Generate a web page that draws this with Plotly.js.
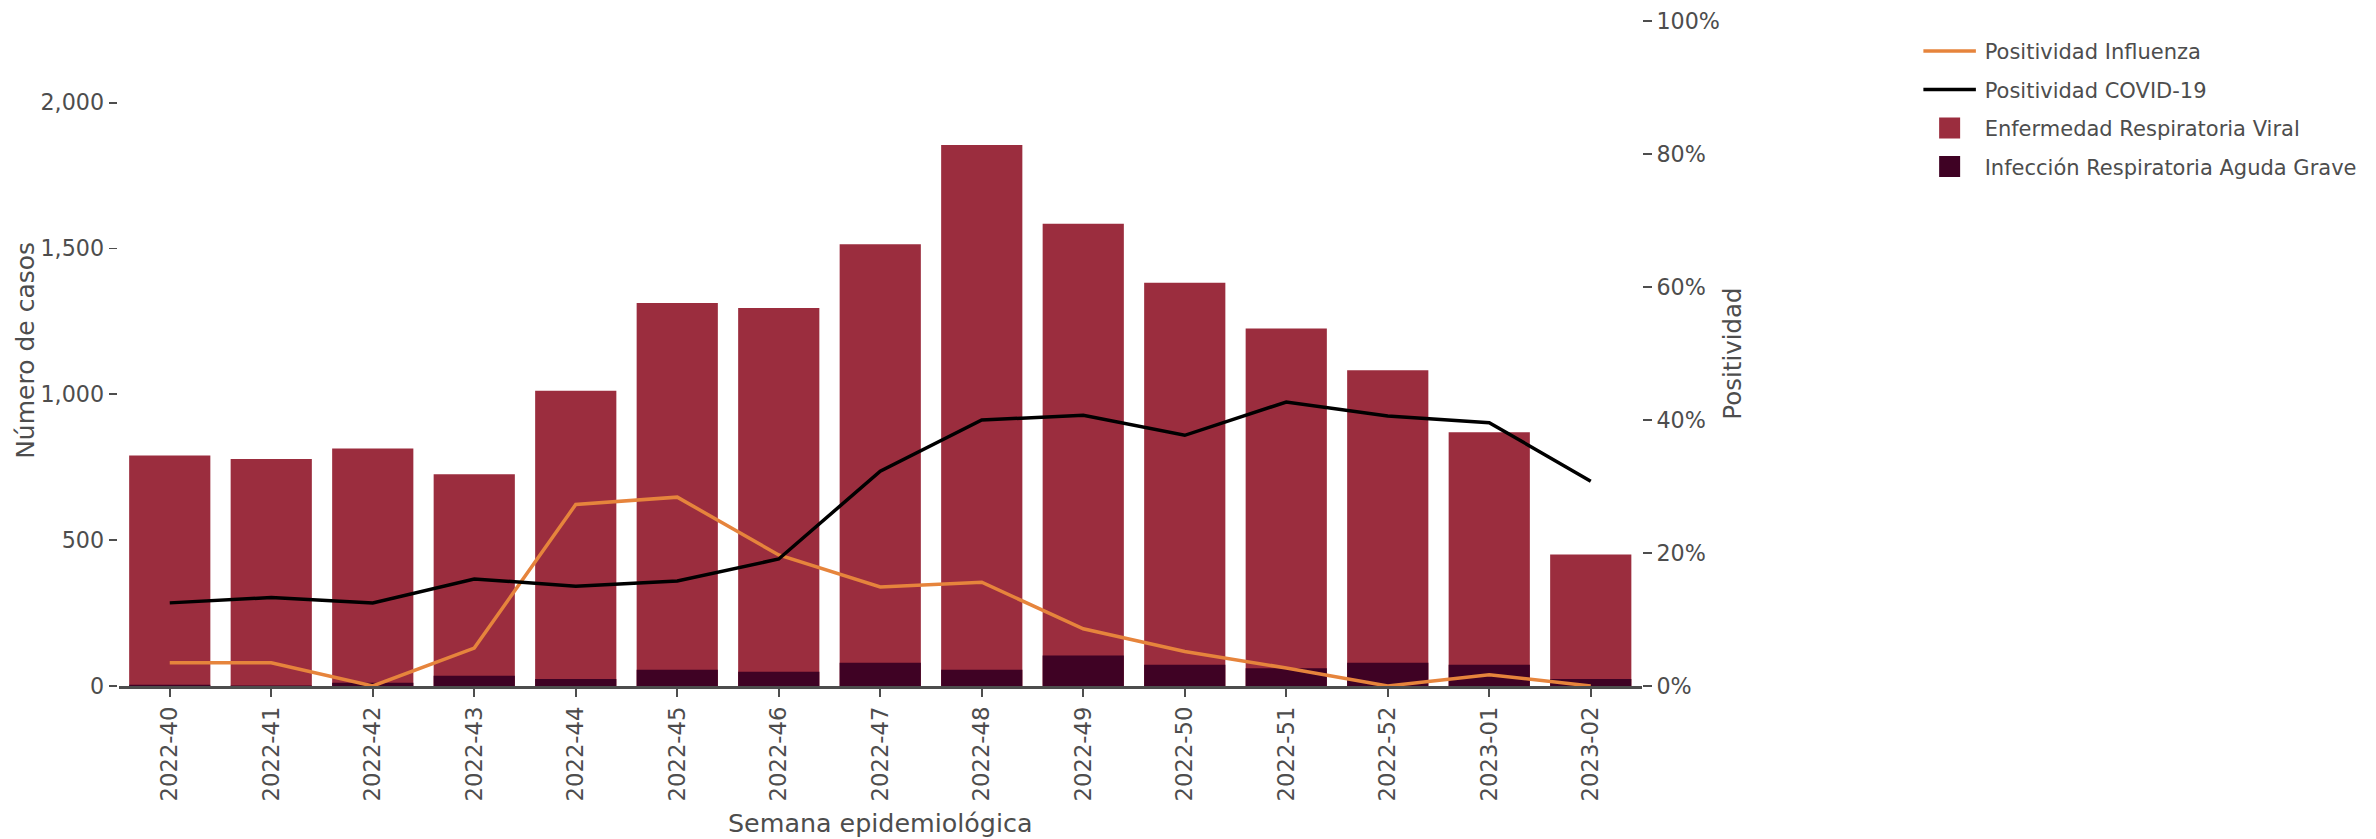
<!DOCTYPE html>
<html>
<head>
<meta charset="utf-8">
<script src="https://cdn.plot.ly/plotly-3.0.1.min.js"></script>
<style>
html,body{margin:0;padding:0;background:#fff;overflow:hidden;width:2376px;height:839px;}
#chart{width:1380px;height:480px;transform:scale(1.75);transform-origin:0 0;}
</style>
</head>
<body>
<div id="chart"></div>
<script>
const semanas = ["2022-40","2022-41","2022-42","2022-43","2022-44","2022-45","2022-46","2022-47","2022-48","2022-49","2022-50","2022-51","2022-52","2023-01","2023-02"];
const erv = [790, 778, 814, 726, 1012, 1313, 1296, 1515, 1855, 1585, 1383, 1226, 1083, 870, 451];
const irag = [4, 2, 11, 35, 24, 56, 49, 80, 56, 105, 73, 61, 80, 73, 24];
const posInfluenza = [0.035, 0.035, 0.0, 0.057, 0.273, 0.284, 0.197, 0.149, 0.156, 0.086, 0.052, 0.027, 0.0, 0.017, 0.0];
const posCovid = [0.125, 0.133, 0.125, 0.161, 0.150, 0.158, 0.191, 0.323, 0.400, 0.407, 0.377, 0.427, 0.406, 0.396, 0.308];

const fam = "DejaVu Sans, Verdana, sans-serif";
const grey = "#4d4d4d";

const traces = [
  {type:"scatter", mode:"lines", name:"Positividad Influenza", x:semanas, y:posInfluenza, yaxis:"y2",
   legendgroup:"g1", line:{color:"#e6843c", width:2}},
  {type:"scatter", mode:"lines", name:"Positividad COVID-19", x:semanas, y:posCovid, yaxis:"y2",
   legendgroup:"g2", line:{color:"#000000", width:2}},
  {type:"bar", name:"Enfermedad Respiratoria Viral", x:semanas, y:erv, legendgroup:"g3", marker:{color:"#9b2d3e"}},
  {type:"bar", name:"Infección Respiratoria Aguda Grave", x:semanas, y:irag, legendgroup:"g4", marker:{color:"#3f0224"}}
];

const layout = {
  width:1380, height:480,
  margin:{l:68, r:442, t:12, b:88, pad:0},
  paper_bgcolor:"rgba(0,0,0,0)", plot_bgcolor:"rgba(0,0,0,0)",
  font:{family:fam, size:13, color:grey},
  barmode:"overlay", bargap:0.2,
  showlegend:true,
  legend:{x:1.1794, y:0.993, xanchor:"left", yanchor:"top", traceorder:"grouped",
          font:{family:fam, size:12, color:grey}, bgcolor:"rgba(0,0,0,0)", tracegroupgap:3},
  xaxis:{
    type:"category", tickangle:-90, ticks:"outside", ticklen:5, tickwidth:1, tickcolor:grey,
    showline:true, linecolor:grey, linewidth:1.5, showgrid:false, zeroline:false,
    tickfont:{family:fam, size:13, color:grey},
    title:{text:"Semana epidemiológica", font:{family:fam, size:14.5, color:grey}, standoff:8}
  },
  yaxis:{
    range:[0,2280], showgrid:false, zeroline:false, ticks:"outside", ticklen:5, tickwidth:1, tickcolor:grey,
    tickformat:",d", dtick:500, tickfont:{family:fam, size:12.7, color:grey}
  },
  yaxis2:{
    overlaying:"y", side:"right", range:[0,1], tickformat:".0%", dtick:0.2,
    showgrid:false, zeroline:false, ticks:"outside", ticklen:5, tickwidth:1, tickcolor:grey,
    tickfont:{family:fam, size:12.7, color:grey},
    title:{text:"Positividad", font:{family:fam, size:14, color:grey}, standoff:3}
  },
  annotations:[
    {text:"Número de casos", xref:"paper", yref:"paper", x:0, y:0.5, xshift:-54.3, yshift:1.5,
     xanchor:"center", yanchor:"middle", textangle:-90, showarrow:false,
     font:{family:fam, size:14.3, color:grey}}
  ]
};

Plotly.newPlot("chart", traces, layout, {displayModeBar:false, staticPlot:true});
</script>
</body>
</html>
